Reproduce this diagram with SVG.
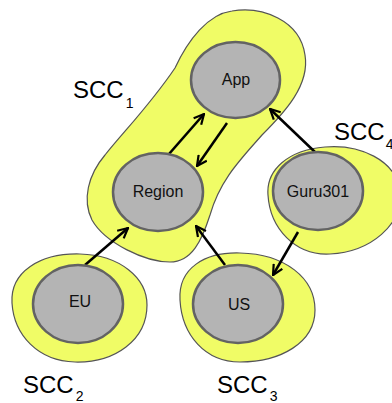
<svg xmlns="http://www.w3.org/2000/svg" width="392" height="403" viewBox="0 0 392 403">
  <defs>
    <marker id="arrow" viewBox="0 0 12 12" refX="11" refY="6" markerWidth="12" markerHeight="12" markerUnits="userSpaceOnUse" orient="auto">
      <path d="M1,1 L11,6 L1,11" fill="none" stroke="#000" stroke-width="2.2" stroke-linejoin="miter"/>
    </marker>
  </defs>
  <style>
    .scc { fill: #f0fc66; stroke: #555; stroke-width: 1.2; }
    .node ellipse { fill: #b4b4b4; stroke: #636363; stroke-width: 2.5; }
    .node text { font-family: "Liberation Sans", Arial, sans-serif; font-size: 16px; fill: #111; text-anchor: middle; }
    .label { font-family: "Liberation Sans", Arial, sans-serif; font-size: 24px; fill: #000; }
    .sub { font-size: 14px; }
    .edge { stroke: #000; stroke-width: 2.5; fill: none; marker-end: url(#arrow); }
  </style>

  <!-- strongly connected components -->
  <g id="sccs">
    <path id="scc1" class="scc" d="M232,11 C262,6 300,20 305,55 C310,85 285,112 262,135 C240,160 220,180 210,215 C202,240 192,262 170,262 C145,262 105,243 92,220 C82,200 88,175 105,155 C125,130 150,105 175,68 C188,40 208,14 232,11 Z"/>
    <path id="scc4" class="scc" d="M268,195 C266,170 288,150 325,147 C360,144 395,160 400,190 C404,225 370,252 330,254 C295,256 270,228 268,195 Z"/>
    <path id="scc2" class="scc" d="M12,303 C10,272 40,253 80,254 C120,255 147,278 147,305 C147,340 115,363 75,362 C38,361 14,335 12,303 Z"/>
    <path id="scc3" class="scc" d="M180,300 C178,268 205,252 240,253 C285,254 315,278 315,310 C315,343 280,362 240,362 C205,362 182,335 180,300 Z"/>
  </g>

  <!-- connectors -->
  <g id="edges">
    <line class="edge" x1="169" y1="154" x2="204" y2="114"/>
    <line class="edge" x1="227" y1="123" x2="197" y2="166"/>
    <line class="edge" x1="316" y1="153" x2="270" y2="109"/>
    <line class="edge" x1="85" y1="265" x2="128" y2="228"/>
    <line class="edge" x1="225" y1="265" x2="196" y2="226"/>
    <line class="edge" x1="298" y1="232" x2="273" y2="275"/>
  </g>

  <!-- nodes -->
  <g id="app" class="node">
    <ellipse cx="235.5" cy="80" rx="44.5" ry="38"/>
    <text x="236" y="85">App</text>
  </g>
  <g id="region" class="node">
    <ellipse cx="158" cy="192" rx="45" ry="39"/>
    <text x="158" y="197">Region</text>
  </g>
  <g id="guru301" class="node">
    <ellipse cx="318" cy="191" rx="45" ry="39"/>
    <text x="318" y="197">Guru301</text>
  </g>
  <g id="eu" class="node">
    <ellipse cx="78" cy="304" rx="45" ry="39"/>
    <text x="80" y="307">EU</text>
  </g>
  <g id="us" class="node">
    <ellipse cx="238" cy="304" rx="45" ry="39"/>
    <text x="239" y="310">US</text>
  </g>

  <!-- component labels -->
  <g id="labels">
    <text class="label" x="73" y="98">SCC<tspan class="sub" dx="2" dy="10">1</tspan></text>
    <text class="label" x="334" y="140">SCC<tspan class="sub" dx="1" dy="9">4</tspan></text>
    <text class="label" x="23" y="393">SCC<tspan class="sub" dx="2" dy="8">2</tspan></text>
    <text class="label" x="217" y="393">SCC<tspan class="sub" dx="2" dy="8">3</tspan></text>
  </g>
</svg>
